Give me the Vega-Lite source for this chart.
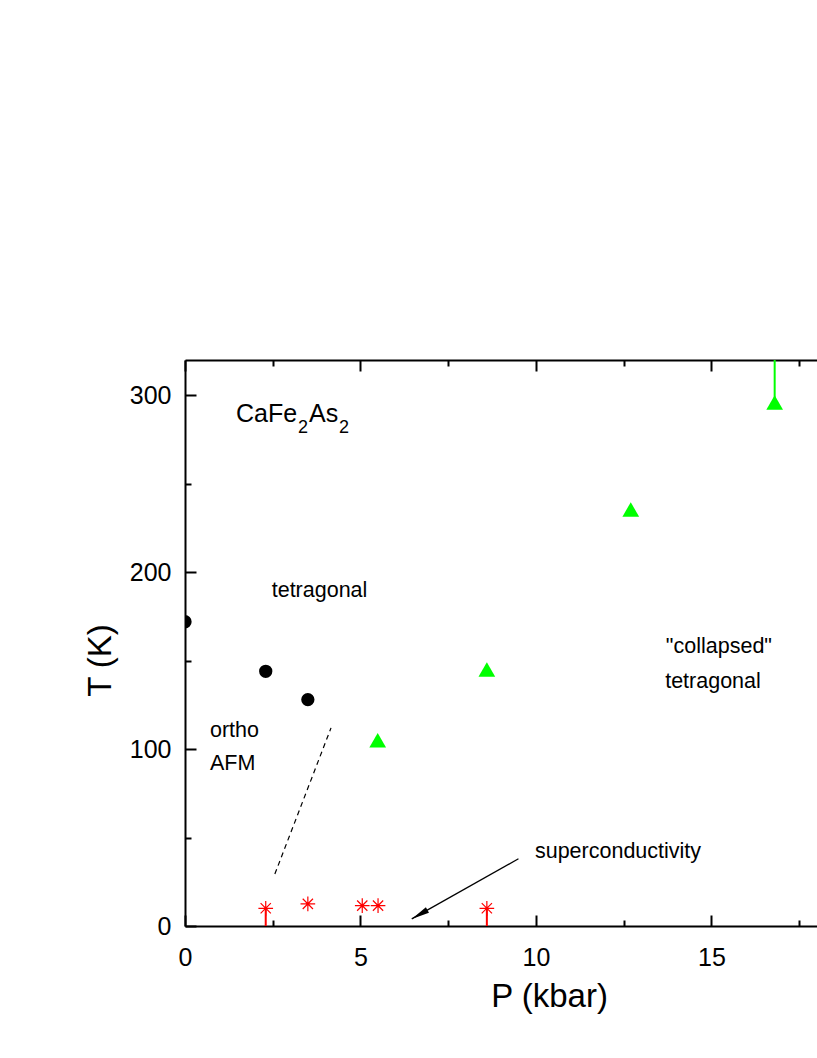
{
  "$schema": "https://vega.github.io/schema/vega-lite/v6.json",
  "autosize": {"type": "none"},
  "padding": {"left": 185, "top": 360, "right": 0, "bottom": 132},
  "width": 632,
  "height": 566,
  "background": "white",
  "config": {
    "view": {"stroke": null},
    "font": "Liberation Sans",
    "axis": {
      "grid": false,
      "domainColor": "black",
      "domainWidth": 2,
      "tickColor": "black",
      "tickWidth": 2,
      "labelColor": "black",
      "titleColor": "black",
      "labelFont": "Liberation Sans",
      "titleFont": "Liberation Sans",
      "labelFontSize": 25,
      "titleFontSize": 33,
      "titleFontWeight": "normal",
      "labelFlush": false,
      "labelOverlap": false
    }
  },
  "datasets": {
    "circles": [{"P": 0, "T": 172}, {"P": 2.3, "T": 144}, {"P": 3.5, "T": 128}],
    "triangles": [{"P": 5.49, "T": 105}, {"P": 8.6, "T": 145}, {"P": 12.7, "T": 235.5}, {"P": 16.8, "T": 296}],
    "greenbar": [{"P": 16.8, "T": 296, "T2": 330}],
    "redbars": [{"P": 2.3, "T": 10, "T2": 0}, {"P": 8.6, "T": 10, "T2": 0}],
    "asterisks": [{"P": 2.3, "T": 10}, {"P": 3.5, "T": 12.5}, {"P": 5.05, "T": 11.5}, {"P": 5.5, "T": 11.5}, {"P": 8.6, "T": 10}],
    "dashed": [{"P": 2.56, "T": 29.4}, {"P": 4.16, "T": 112}],
    "arrow": [{"P": 9.5, "T": 38}, {"P": 6.46, "T": 4}],
    "arrowhead": [{"P": 6.46, "T": 4}],
    "labels": [
      {"P": 2.47, "T": 186, "label": "tetragonal"},
      {"P": 0.71, "T": 106.9, "label": "ortho"},
      {"P": 0.71, "T": 88.1, "label": "AFM"},
      {"P": 13.7, "T": 154.1, "label": "\"collapsed\""},
      {"P": 13.68, "T": 134.6, "label": "tetragonal"},
      {"P": 9.97, "T": 38.2, "label": "superconductivity"}
    ],
    "formula": [{"P": 1.453, "T": 284.9, "label": "CaFe"}, {"P": 3.533, "T": 284.9, "label": "As"}],
    "subs": [{"P": 3.219, "T": 278.5, "label": "2"}, {"P": 4.387, "T": 278.5, "label": "2"}]
  },
  "layer": [
    {
      "data": {"name": "circles"},
      "mark": {"type": "point", "shape": "circle", "filled": true, "color": "black", "size": 177, "opacity": 1, "clip": true},
      "encoding": {
        "x": {
          "field": "P", "type": "quantitative",
          "scale": {"domain": [0, 18.006], "nice": false, "zero": false},
          "axis": {
            "orient": "bottom",
            "title": "P (kbar)",
            "values": [0, 5, 10, 15],
            "tickSize": -11,
            "labelPadding": 30,
            "titleX": 364,
            "titleY": 80,
            "titleBaseline": "alphabetic",
            "titleAlign": "center"
          }
        },
        "y": {
          "field": "T", "type": "quantitative",
          "scale": {"domain": [0, 320], "nice": false, "zero": false},
          "axis": {
            "orient": "left",
            "title": "T (K)",
            "values": [0, 100, 200, 300],
            "tickSize": -11,
            "labelPadding": 25,
            "titleX": -75,
            "titleY": 300,
            "titleAngle": 270,
            "titleBaseline": "alphabetic",
            "titleAlign": "center"
          }
        }
      }
    },
    {
      "data": {"name": "triangles"},
      "mark": {"type": "point", "shape": "triangle-up", "filled": true, "color": "#00ff00", "size": 279, "opacity": 1, "clip": true},
      "encoding": {
        "x": {
          "field": "P", "type": "quantitative",
          "scale": {"domain": [0, 18.006], "nice": false, "zero": false},
          "axis": {"orient": "top", "title": null, "labels": false, "values": [0, 5, 10, 15], "tickSize": -11}
        },
        "y": {
          "field": "T", "type": "quantitative",
          "scale": {"domain": [0, 320], "nice": false, "zero": false},
          "axis": {"orient": "left", "title": null, "labels": false, "domain": false, "values": [50, 150, 250], "tickSize": -6}
        }
      }
    },
    {
      "data": {"name": "greenbar"},
      "mark": {"type": "rule", "color": "#00ff00", "strokeWidth": 2, "clip": true},
      "encoding": {
        "x": {"field": "P", "type": "quantitative", "scale": {"domain": [0, 18.006], "nice": false, "zero": false}, "axis": null},
        "y": {"field": "T", "type": "quantitative", "scale": {"domain": [0, 320], "nice": false, "zero": false}, "axis": null},
        "y2": {"field": "T2"}
      }
    },
    {
      "data": {"name": "redbars"},
      "mark": {"type": "rule", "color": "#ff0000", "strokeWidth": 2, "clip": true},
      "encoding": {
        "x": {"field": "P", "type": "quantitative", "scale": {"domain": [0, 18.006], "nice": false, "zero": false}, "axis": null},
        "y": {"field": "T", "type": "quantitative", "scale": {"domain": [0, 320], "nice": false, "zero": false}, "axis": null},
        "y2": {"field": "T2"}
      }
    },
    {
      "data": {"name": "asterisks"},
      "mark": {"type": "point", "shape": "M0,-1L0,1M-1,0L1,0M-0.7,-0.7L0.7,0.7M-0.7,0.7L0.7,-0.7", "filled": false, "color": "#ff0000", "strokeWidth": 1.2, "size": 215, "opacity": 1},
      "encoding": {
        "x": {
          "field": "P", "type": "quantitative",
          "scale": {"domain": [0, 18.006], "nice": false, "zero": false},
          "axis": {"orient": "bottom", "title": null, "labels": false, "domain": false, "values": [2.5, 7.5, 12.5, 17.5], "tickSize": -6}
        },
        "y": {"field": "T", "type": "quantitative", "scale": {"domain": [0, 320], "nice": false, "zero": false}, "axis": null}
      }
    },
    {
      "data": {"name": "dashed"},
      "mark": {"type": "line", "color": "black", "strokeWidth": 1.2, "strokeDash": [5, 4]},
      "encoding": {
        "x": {"field": "P", "type": "quantitative", "scale": {"domain": [0, 18.006], "nice": false, "zero": false}, "axis": null},
        "y": {"field": "T", "type": "quantitative", "scale": {"domain": [0, 320], "nice": false, "zero": false}, "axis": null}
      }
    },
    {
      "data": {"name": "arrow"},
      "mark": {"type": "line", "color": "black", "strokeWidth": 1.3},
      "encoding": {
        "x": {"field": "P", "type": "quantitative", "scale": {"domain": [0, 18.006], "nice": false, "zero": false}, "axis": null},
        "y": {"field": "T", "type": "quantitative", "scale": {"domain": [0, 320], "nice": false, "zero": false}, "axis": null}
      }
    },
    {
      "data": {"name": "arrowhead"},
      "mark": {"type": "point", "shape": "M0,0L0.35,2L-0.35,2Z", "filled": true, "color": "black", "size": 324, "angle": 240.6, "opacity": 1},
      "encoding": {
        "x": {"field": "P", "type": "quantitative", "scale": {"domain": [0, 18.006], "nice": false, "zero": false}, "axis": null},
        "y": {"field": "T", "type": "quantitative", "scale": {"domain": [0, 320], "nice": false, "zero": false}, "axis": null}
      }
    },
    {
      "data": {"name": "labels"},
      "mark": {"type": "text", "align": "left", "baseline": "alphabetic", "fontSize": 21.5, "font": "Liberation Sans", "color": "black"},
      "encoding": {
        "x": {
          "field": "P", "type": "quantitative",
          "scale": {"domain": [0, 18.006], "nice": false, "zero": false},
          "axis": {"orient": "top", "title": null, "labels": false, "domain": false, "values": [2.5, 7.5, 12.5, 17.5], "tickSize": -6}
        },
        "y": {"field": "T", "type": "quantitative", "scale": {"domain": [0, 320], "nice": false, "zero": false}, "axis": null},
        "text": {"field": "label"}
      }
    },
    {
      "data": {"name": "formula"},
      "mark": {"type": "text", "align": "left", "baseline": "alphabetic", "fontSize": 25, "font": "Liberation Sans", "color": "black"},
      "encoding": {
        "x": {"field": "P", "type": "quantitative", "scale": {"domain": [0, 18.006], "nice": false, "zero": false}, "axis": null},
        "y": {"field": "T", "type": "quantitative", "scale": {"domain": [0, 320], "nice": false, "zero": false}, "axis": null},
        "text": {"field": "label"}
      }
    },
    {
      "data": {"name": "subs"},
      "mark": {"type": "text", "align": "left", "baseline": "alphabetic", "fontSize": 18, "font": "Liberation Sans", "color": "black"},
      "encoding": {
        "x": {"field": "P", "type": "quantitative", "scale": {"domain": [0, 18.006], "nice": false, "zero": false}, "axis": null},
        "y": {"field": "T", "type": "quantitative", "scale": {"domain": [0, 320], "nice": false, "zero": false}, "axis": null},
        "text": {"field": "label"}
      }
    }
  ],
  "resolve": {"axis": {"x": "independent", "y": "independent"}}
}
